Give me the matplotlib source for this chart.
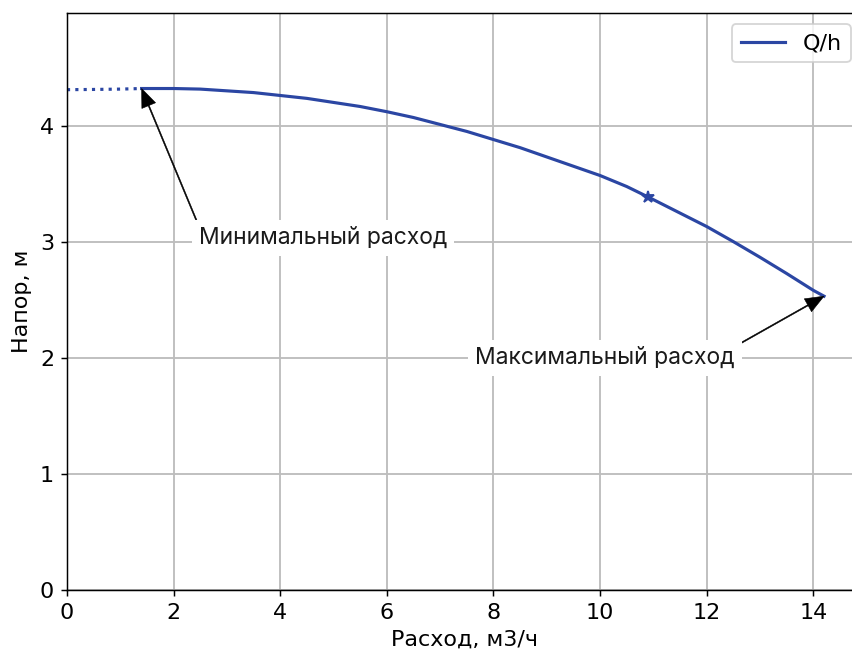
import matplotlib
matplotlib.use("Agg")
import matplotlib.pyplot as plt

# Data
q_dotted = [0.0, 0.5, 1.0, 1.4]
h_dotted = [4.31, 4.312, 4.315, 4.32]
q_curve = [1.4, 2, 2.5, 3, 3.5, 4, 4.5, 5, 5.5, 6, 6.5, 7, 7.5, 8, 8.5, 9, 9.5,
           10, 10.5, 10.9, 11, 11.5, 12, 12.5, 13, 13.5, 14, 14.2]
h_curve = [4.32, 4.32, 4.315, 4.30, 4.285, 4.26, 4.235, 4.20, 4.165, 4.12, 4.07,
           4.01, 3.95, 3.88, 3.81, 3.73, 3.65, 3.57, 3.475, 3.385, 3.362, 3.246,
           3.13, 3.00, 2.865, 2.725, 2.58, 2.53]
q_star, h_star = 10.9, 3.385
q_min, h_min = 1.4, 4.32
q_max, h_max = 14.2, 2.53
min_label = "Минимальный расход"
max_label = "Максимальный расход"
min_text_pos = (4.81, 3.03)
max_text_pos = (10.09, 2.0)
x_ticks = [0, 2, 4, 6, 8, 10, 12, 14]
y_ticks = [0, 1, 2, 3, 4]

DPI = 133.125
plt.rcParams['font.size'] = 12
fig = plt.figure(figsize=(852 / DPI, 651 / DPI), dpi=DPI)
ax = fig.add_axes([0.0786, 0.0942, 0.933, 0.8853])

color = '#2b46a3'
ax.plot(q_dotted, h_dotted, linestyle=':', color=color, lw=1.7)
ax.plot(q_curve, h_curve, linestyle='-', color=color, lw=1.7, label='Q/h')
ax.plot([q_star], [h_star], marker='*', color=color, markersize=7, linestyle='none')

arrowprops = dict(facecolor='black', edgecolor='black', lw=0.3, width=0.6,
                  headwidth=8, headlength=10, shrink=0)
bbox = dict(boxstyle='square,pad=0.3', fc='white', ec='none')
for label, xy, pos in [(min_label, (q_min, h_min), min_text_pos),
                       (max_label, (q_max, h_max), max_text_pos)]:
    ax.annotate(label, xy=xy, xytext=pos, ha='center', va='center',
                fontsize=12.4, family='Inter', color='#1a1a1a',
                arrowprops=arrowprops, bbox=bbox)

ax.set_xlim(0, 14.2 * 1.05)
ax.set_ylim(0, 4.32 * 1.15)
ax.set_xticks(x_ticks)
ax.set_yticks(y_ticks)
ax.grid(True, color='#bdbdbd', lw=1.0)
ax.set_axisbelow(True)
ax.set_xlabel('Расход, м3/ч')
ax.set_ylabel('Напор, м')
ax.legend(loc='upper right')

fig.savefig('out.png', dpi=DPI)
